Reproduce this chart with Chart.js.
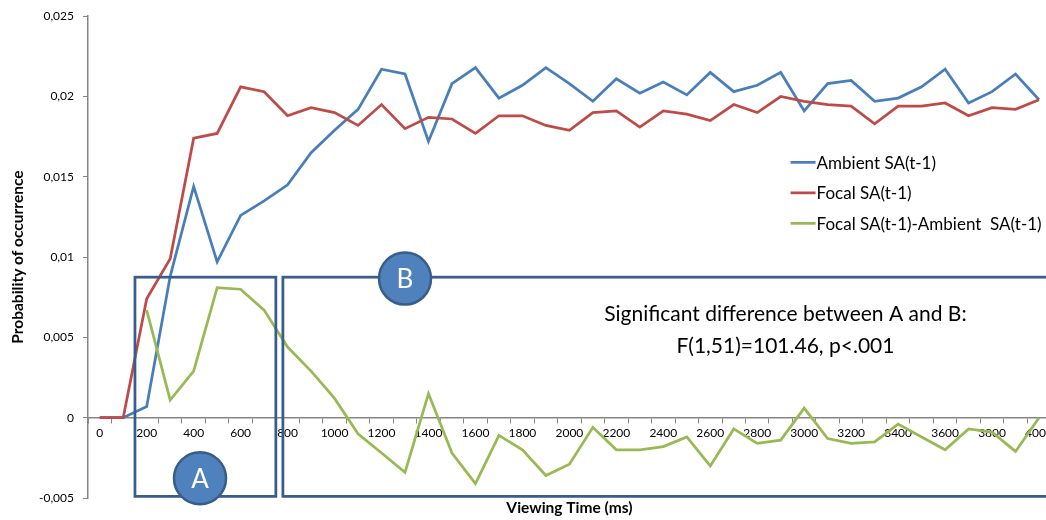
<!DOCTYPE html>
<html>
<head>
<meta charset="utf-8">
<script src="https://cdn.jsdelivr.net/npm/chart.js@4.4.1/dist/chart.umd.min.js"></script>
<style>
  html, body { margin: 0; padding: 0; background: #ffffff; overflow: hidden; }
  #wrap { width: 1046px; height: 520px; overflow: hidden; position: relative; }
  canvas { display: block; }
</style>
</head>
<body>
<div id="wrap"><canvas id="c" width="1056" height="520" style="width:1056px;height:520px"></canvas></div>
<script>
// ---- data ----
const categories = [0, 100, 200, 300, 400, 500, 600, 700, 800, 900,
  1000, 1100, 1200, 1300, 1400, 1500, 1600, 1700, 1800, 1900,
  2000, 2100, 2200, 2300, 2400, 2500, 2600, 2700, 2800, 2900,
  3000, 3100, 3200, 3300, 3400, 3500, 3600, 3700, 3800, 3900, 4000];

const ambientSA = [0, 0, 0.0007, 0.0088, 0.0144, 0.0097, 0.0126, 0.0135, 0.0145, 0.0165,
  0.0179, 0.0192, 0.0217, 0.0214, 0.0172, 0.0208, 0.0218, 0.0199, 0.0207, 0.0218,
  0.0208, 0.0197, 0.0211, 0.0202, 0.0209, 0.0201, 0.0215, 0.0203, 0.0207, 0.0215,
  0.0191, 0.0208, 0.0210, 0.0197, 0.0199, 0.0206, 0.0217, 0.0196, 0.0203, 0.0214, 0.0198];

const focalSA = [0, 0, 0.0074, 0.0099, 0.0174, 0.0177, 0.0206, 0.0203, 0.0188, 0.0193,
  0.0190, 0.0182, 0.0195, 0.0180, 0.0187, 0.0186, 0.0177, 0.0188, 0.0188, 0.0182,
  0.0179, 0.0190, 0.0191, 0.0181, 0.0191, 0.0189, 0.0185, 0.0195, 0.0190, 0.0200,
  0.0197, 0.0195, 0.0194, 0.0183, 0.0194, 0.0194, 0.0196, 0.0188, 0.0193, 0.0192, 0.0198];

const focalMinusAmbient = [null, null, 0.0067, 0.0011, 0.0029, 0.0081, 0.0080, 0.0067, 0.0044, 0.0029,
  0.0012, -0.0010, -0.0022, -0.0034, 0.0015, -0.0022, -0.0041, -0.0011, -0.0020, -0.0036,
  -0.0029, -0.0006, -0.0020, -0.0020, -0.0018, -0.0012, -0.0030, -0.0007, -0.0016, -0.0014,
  0.0006, -0.0013, -0.0016, -0.0015, -0.0004, -0.0012, -0.0020, -0.0007, -0.0009, -0.0021, 0.0000];

const seriesNames = ['Ambient SA(t-1)', 'Focal SA(t-1)', 'Focal SA(t-1)-Ambient  SA(t-1)'];

const yTickValues = [-0.005, 0, 0.005, 0.01, 0.015, 0.02, 0.025];
const yTickLabels = ['-0,005', '0', '0,005', '0,01', '0,015', '0,02', '0,025'];

const statLines = ['Significant difference between A and B:', 'F(1,51)=101.46, p<.001'];
const regionLabels = ['A', 'B'];

// ---- annotation layout (data coordinates: category index / value) ----
const annotLayout = {
  boxTop: 0.00875, boxBottom: -0.0049,
  boxes: [{ from: 1.5, to: 7.5 }, { from: 7.8, to: 42 }],
  circles: [{ x: 4.27, y: -0.00377 }, { x: 13.0, y: 0.00866 }],
  circleR: 26,
  stat: { x: 29.2, y: 0.00645, lineGap: 32, size: 21 },
  legend: { x: 29.42, y: 0.0159, rowGap: 30.5, swatch: 25, size: 17 }
};

const FONT = 'Lato, "Open Sans", "Liberation Sans", sans-serif';
Chart.defaults.font.family = FONT;

const annotPlugin = {
  id: 'annot',
  afterDatasetsDraw(chart) {
    const { ctx, scales: { x, y } } = chart;
    const L = annotLayout;
    ctx.save();
    // region boxes
    ctx.strokeStyle = '#385D8A';
    ctx.lineWidth = 2.75;
    const yT = y.getPixelForValue(L.boxTop), yB = y.getPixelForValue(L.boxBottom);
    L.boxes.forEach(b => {
      const x1 = x.getPixelForValue(b.from), x2 = x.getPixelForValue(b.to);
      ctx.strokeRect(x1, yT, x2 - x1, yB - yT);
    });
    // circles
    L.circles.forEach((c, i) => {
      const cx = x.getPixelForValue(c.x), cy = y.getPixelForValue(c.y);
      ctx.beginPath();
      ctx.arc(cx, cy, L.circleR, 0, Math.PI * 2);
      ctx.fillStyle = '#4F81BD';
      ctx.fill();
      ctx.lineWidth = 2.5;
      ctx.strokeStyle = '#385D8A';
      ctx.stroke();
      ctx.fillStyle = '#ffffff';
      ctx.font = '26px ' + FONT;
      ctx.textAlign = 'center';
      ctx.textBaseline = 'middle';
      ctx.fillText(regionLabels[i], cx, cy + 1);
    });
    // statistic text
    ctx.fillStyle = '#000000';
    ctx.font = L.stat.size + 'px ' + FONT;
    ctx.textAlign = 'center';
    ctx.textBaseline = 'middle';
    const sx = x.getPixelForValue(L.stat.x), sy = y.getPixelForValue(L.stat.y);
    statLines.forEach((t, i) => ctx.fillText(t, sx, sy + i * L.stat.lineGap));
    // legend
    const lx = x.getPixelForValue(L.legend.x), ly = y.getPixelForValue(L.legend.y);
    ctx.font = L.legend.size + 'px ' + FONT;
    ctx.textAlign = 'left';
    chart.data.datasets.forEach((ds, i) => {
      const yy = ly + i * L.legend.rowGap;
      ctx.beginPath();
      ctx.moveTo(lx, yy);
      ctx.lineTo(lx + L.legend.swatch, yy);
      ctx.strokeStyle = ds.borderColor;
      ctx.lineWidth = ds.borderWidth;
      ctx.stroke();
      ctx.fillStyle = '#000000';
      ctx.fillText(ds.label, lx + L.legend.swatch + 1, yy + 1);
    });
    ctx.restore();
  }
};

new Chart(document.getElementById('c'), {
  type: 'line',
  data: {
    labels: categories,
    datasets: [
      { label: seriesNames[0], data: ambientSA, borderColor: '#4A7EBB', borderWidth: 2.75, order: 2, xAxisID: 'x', yAxisID: 'y' },
      { label: seriesNames[1], data: focalSA, borderColor: '#BE4B48', borderWidth: 2.75, order: 1, xAxisID: 'x', yAxisID: 'y' },
      { label: seriesNames[2], data: focalMinusAmbient, borderColor: '#98B954', borderWidth: 2.75, order: 0, xAxisID: 'x', yAxisID: 'y' }
    ]
  },
  options: {
    responsive: false,
    animation: false,
    devicePixelRatio: 1,
    layout: { padding: { top: 12, left: 0, right: 0, bottom: 0 } },
    elements: { point: { radius: 0, hoverRadius: 0 }, line: { tension: 0, fill: false } },
    plugins: { legend: { display: false }, tooltip: { enabled: false }, title: { display: false } },
    scales: {
      x: {
        type: 'category',
        position: { y: 0 },
        offset: true,
        grid: { offset: true, drawOnChartArea: false, tickLength: 5, color: '#868686', lineWidth: 1 },
        border: { color: '#868686', width: 1.5 },
        ticks: {
          autoSkip: false, maxRotation: 0, minRotation: 0, padding: 3,
          font: { size: 12 }, color: '#000000',
          callback: (v, i) => (i % 2 === 0 ? String(categories[i]) : '')
        }
      },
      x2: {
        type: 'category',
        position: 'bottom',
        grid: { display: false },
        border: { display: false },
        ticks: { display: false },
        title: { display: true, text: 'Viewing Time (ms)', color: '#000000', font: { size: 15.5, weight: 'bold' }, padding: { top: 0, bottom: 2.5 } },
        afterFit(s) { s.height = 22; }
      },
      y: {
        type: 'linear',
        position: 'left',
        min: -0.005, max: 0.025,
        afterBuildTicks(s) { s.ticks = yTickValues.map(v => ({ value: v })); },
        grid: { drawOnChartArea: false, tickLength: 5, color: '#868686', lineWidth: 1 },
        border: { color: '#868686', width: 1.5 },
        ticks: { padding: 9, font: { size: 12 }, color: '#000000', callback: (v, i) => yTickLabels[i] },
        title: { display: true, text: 'Probability of occurrence', color: '#000000', font: { size: 15.5, weight: 'bold' }, padding: { top: 9, bottom: 0 } },
        afterFit(s) { s.width = 88; }
      }
    }
  },
  plugins: [annotPlugin]
});
</script>
</body>
</html>
